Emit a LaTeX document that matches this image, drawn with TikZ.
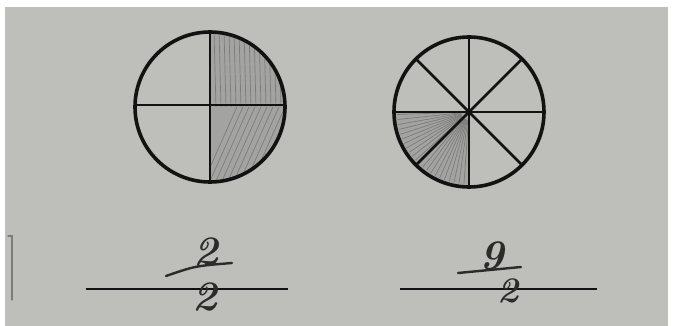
\documentclass[tikz,border=0pt]{standalone}
\usetikzlibrary{calc}
\definecolor{pgpaper}{HTML}{BEBEBB}
\definecolor{pgink}{HTML}{121212}
\definecolor{pgpencil}{HTML}{A3A3A1}
\definecolor{pgstroke}{HTML}{7C7C7A}
\definecolor{pglead}{HTML}{2B2B2B}

\begin{document}
\begin{tikzpicture}[x=1pt, y=-1pt,
    rim/.style={draw=pgink, line width=3.6pt},
    spoke/.style={draw=pgink, line width=2.6pt},
    shade/.style={fill=pgpencil},
    hatch/.style={draw=pgstroke, line width=0.7pt},
    rule/.style={draw=pgink, line width=1.4pt},
    digit/.style={text=pglead, inner sep=0pt, font=\fontsize{42}{42}\selectfont\bfseries\itshape},
    smalldigit/.style={digit, font=\fontsize{36}{36}\selectfont\bfseries\itshape},
    stroke/.style={draw=pglead, line width=2.4pt, line cap=round},
  ]
  % photo frame and paper
  \useasboundingbox (0,0) rectangle (673,326);
  \fill[white] (0,0) rectangle (673,326);
  \fill[pgpaper] (5,7) rectangle (668,326);
  \draw[pgstroke, line width=1.2pt, line cap=round] (8,236) -- (12,236) -- (12,300);

  \pgfmathsetmacro{\rad}{75}
  \coordinate (lc) at (210,107);
  \coordinate (rc) at (469,112);

  % shaded parts, pencil strokes clipped to them
  \fill[shade] (lc) -- ($(lc)+(-90:\rad)$) arc[start angle=-90, end angle=90, radius=\rad] -- cycle;
  \begin{scope}
    \clip (lc) -- ($(lc)+(-90:\rad)$) arc[start angle=-90, end angle=0, radius=\rad] -- cycle;
    \foreach \x in {214,219,...,284} {
      \draw[hatch] (\x,30) -- (\x+2,108);
    }
  \end{scope}
  \begin{scope}
    \clip (lc) -- ($(lc)+(0:\rad)$) arc[start angle=0, end angle=90, radius=\rad] -- cycle;
    \foreach \t in {0,6,...,150} {
      \draw[hatch] (200+\t,190) -- (240+\t,100);
    }
  \end{scope}

  \fill[shade] (rc) -- ($(rc)+(90:\rad)$) arc[start angle=90, end angle=180, radius=\rad] -- cycle;
  \foreach \a in {94,98,...,178} {
    \draw[hatch] ($(rc)+(\a:8)$) -- ($(rc)+(\a:72)$);
  }

  % quarters
  \draw[spoke] ($(lc)+(0,-\rad)$) -- ($(lc)+(0,\rad)$);
  \draw[spoke] ($(lc)+(-\rad,-2)$) -- ($(lc)+(\rad,-2)$);
  \draw[rim] (lc) circle[radius=\rad];

  % eighths
  \foreach \a in {0,45,90,135} {
    \draw[spoke] ($(rc)+(\a:\rad)$) -- ($(rc)+(\a+180:\rad)$);
  }
  \draw[rim] (rc) circle[radius=\rad];

  % answer lines
  \draw[rule] (86,289) -- (288,289);
  \draw[rule] (400,289) -- (597,289);

  % written answers
  \node[digit] (ltop) at (206,252) {2};
  \draw[stroke] (166,276) .. controls (195,266) .. (232,263);
  \node[digit] (lbot) at (205,297) {2};

  \node[digit] (rtop) at (492,256) {9};
  \draw[stroke] (458,273) -- (521,267);
  \node[smalldigit] (rbot) at (508,291) {2};
\end{tikzpicture}
\end{document}
